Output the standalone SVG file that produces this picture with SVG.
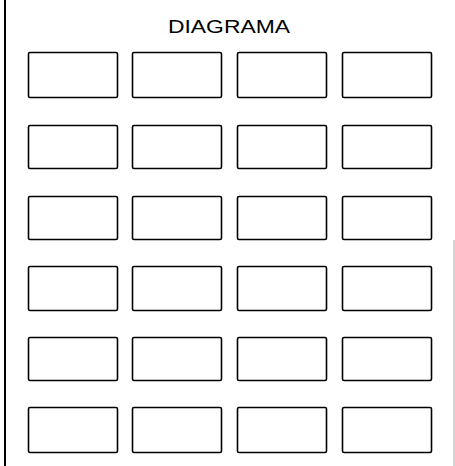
<svg xmlns="http://www.w3.org/2000/svg" width="455" height="466" viewBox="0 0 455 466">
<style>
.box{fill:#fff;stroke:#000;stroke-width:1.6}
.title{font-family:"Liberation Sans",Arial,sans-serif;font-size:19px;fill:#000}
</style>
<rect width="455" height="466" fill="#fff"/>
<line x1="5" y1="0" x2="5" y2="466" stroke="#000" stroke-width="2"/>
<line x1="454" y1="240" x2="454" y2="466" stroke="#aaa" stroke-width="1"/>
<text class="title" x="168" y="33" textLength="122" lengthAdjust="spacingAndGlyphs">DIAGRAMA</text>
<g id="r1c1"><rect class="box" x="28.5" y="52.5" width="89" height="45" rx="1.5"/></g>
<g id="r1c2"><rect class="box" x="132.5" y="52.5" width="89" height="45" rx="1.5"/></g>
<g id="r1c3"><rect class="box" x="237.5" y="52.5" width="89" height="45" rx="1.5"/></g>
<g id="r1c4"><rect class="box" x="342.5" y="52.5" width="89" height="45" rx="1.5"/></g>
<g id="r2c1"><rect class="box" x="28.5" y="125.5" width="89" height="43" rx="1.5"/></g>
<g id="r2c2"><rect class="box" x="132.5" y="125.5" width="89" height="43" rx="1.5"/></g>
<g id="r2c3"><rect class="box" x="237.5" y="125.5" width="89" height="43" rx="1.5"/></g>
<g id="r2c4"><rect class="box" x="342.5" y="125.5" width="89" height="43" rx="1.5"/></g>
<g id="r3c1"><rect class="box" x="28.5" y="196.5" width="89" height="43" rx="1.5"/></g>
<g id="r3c2"><rect class="box" x="132.5" y="196.5" width="89" height="43" rx="1.5"/></g>
<g id="r3c3"><rect class="box" x="237.5" y="196.5" width="89" height="43" rx="1.5"/></g>
<g id="r3c4"><rect class="box" x="342.5" y="196.5" width="89" height="43" rx="1.5"/></g>
<g id="r4c1"><rect class="box" x="28.5" y="266.5" width="89" height="44" rx="1.5"/></g>
<g id="r4c2"><rect class="box" x="132.5" y="266.5" width="89" height="44" rx="1.5"/></g>
<g id="r4c3"><rect class="box" x="237.5" y="266.5" width="89" height="44" rx="1.5"/></g>
<g id="r4c4"><rect class="box" x="342.5" y="266.5" width="89" height="44" rx="1.5"/></g>
<g id="r5c1"><rect class="box" x="28.5" y="337.5" width="89" height="43" rx="1.5"/></g>
<g id="r5c2"><rect class="box" x="132.5" y="337.5" width="89" height="43" rx="1.5"/></g>
<g id="r5c3"><rect class="box" x="237.5" y="337.5" width="89" height="43" rx="1.5"/></g>
<g id="r5c4"><rect class="box" x="342.5" y="337.5" width="89" height="43" rx="1.5"/></g>
<g id="r6c1"><rect class="box" x="28.5" y="407.5" width="89" height="45" rx="1.5"/></g>
<g id="r6c2"><rect class="box" x="132.5" y="407.5" width="89" height="45" rx="1.5"/></g>
<g id="r6c3"><rect class="box" x="237.5" y="407.5" width="89" height="45" rx="1.5"/></g>
<g id="r6c4"><rect class="box" x="342.5" y="407.5" width="89" height="45" rx="1.5"/></g>
<g id="connectors"></g>
</svg>
